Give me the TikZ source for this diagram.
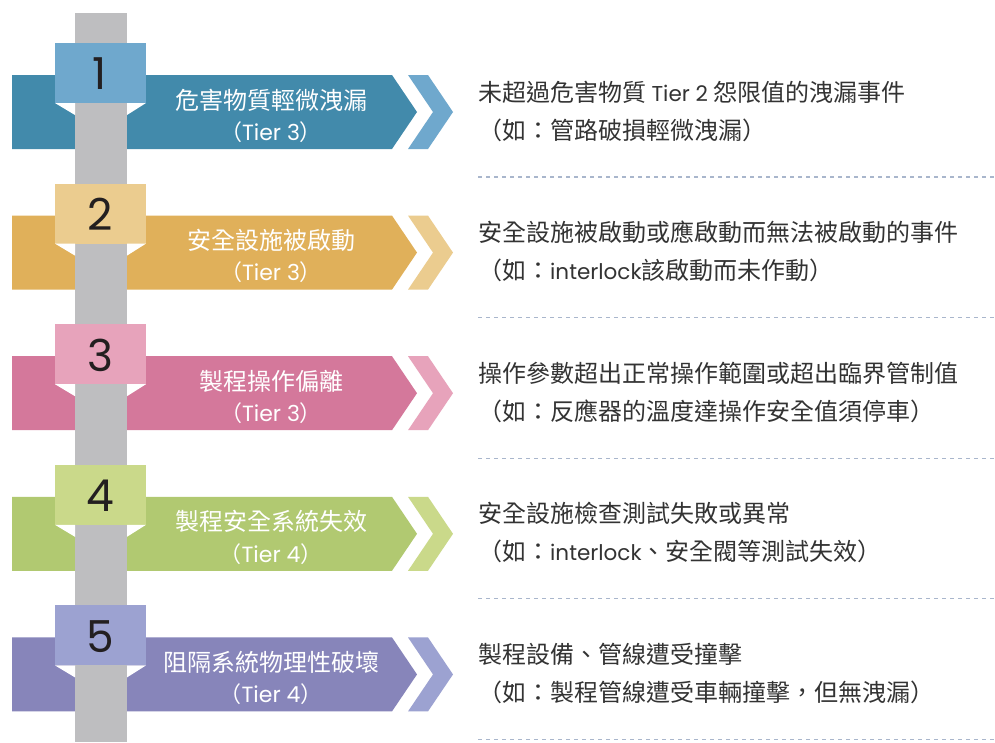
\documentclass[tikz,border=0pt]{standalone}
\usepackage{fontspec}
\setmainfont{Poppins}
\newfontfamily\cjk{Noto Sans CJK TC}
\newfontfamily\lat{Poppins}
\newcommand\latx[1]{{\lat\fontsize{21.5}{28}\selectfont #1}}
\definecolor{cad}{HTML}{428AAB}\definecolor{cal}{HTML}{6FA8CD}
\definecolor{cbd}{HTML}{E0B05A}\definecolor{cbl}{HTML}{EBCC8F}
\definecolor{ccd}{HTML}{D4789B}\definecolor{ccl}{HTML}{E7A3BB}
\definecolor{cdd}{HTML}{B1C971}\definecolor{cdl}{HTML}{CAD98A}
\definecolor{ced}{HTML}{8785BA}\definecolor{cel}{HTML}{9CA2D1}
\definecolor{polegray}{HTML}{BEBEC0}
\definecolor{dashcol}{HTML}{A9B6CC}
\definecolor{txtgray}{HTML}{333333}
\definecolor{digit}{HTML}{231F20}
\tikzset{
  numtxt/.style={text=digit, inner sep=0, font=\fontsize{44}{50}\selectfont},
  titletxt/.style={text=white, inner sep=0, font=\cjk\fontsize{24}{28}\selectfont},
  tiertxt/.style={text=white, inner sep=0, font=\fontsize{22}{28}\selectfont},
  desc/.style={anchor=west, text=txtgray, inner sep=0, font=\cjk\fontsize{24}{28}\selectfont},
  sepline/.style={draw=dashcol, line width=1.2pt, dash pattern=on 4pt off 4pt}
}
\newcommand\bandrow[3]{%
 \begin{scope}[shift={(0,{140.6*(#1-1)})}]
  \fill[#2] (12,75) -- (392,75) -- (417,112) -- (392,149) -- (12,149) -- cycle;
  \fill[#3] (408,75) -- (428,75) -- (453,112) -- (428,149) -- (408,149) -- (433,112) -- cycle;
 \end{scope}}
\newcommand\toprow[7]{%
 \begin{scope}[shift={(0,{140.6*(#1-1)})}]
  \fill[#2] (55,43) rectangle (146,103);
  \fill[white] (55,103) -- (75,103) -- (75,115) -- cycle;
  \fill[white] (127,103) -- (146,103) -- (127,115) -- cycle;
  \node[numtxt] (num#1) at (100,74) {#3};
  \node[titletxt] (title#1) at (271,100) {#4};
  \node[tiertxt] (tier#1) at (271,132) {{\cjk （}#5{\cjk ）}};
  \node[desc] (da#1) at (478,92) {#6};
  \node[desc] (db#1) at (478,130) {#7};
  \coordinate (ls#1) at (478,177);
  \coordinate (le#1) at (995,177);
  \draw[sepline] (ls#1) -- (le#1);
 \end{scope}}
\begin{document}
\begin{tikzpicture}[x=1pt,y=-1pt]
\useasboundingbox (0,0) rectangle (995,742);
\fill[white] (0,0) rectangle (995,742);
\bandrow{1}{cad}{cal}
\bandrow{2}{cbd}{cbl}
\bandrow{3}{ccd}{ccl}
\bandrow{4}{cdd}{cdl}
\bandrow{5}{ced}{cel}
\fill[polegray] (75,13) rectangle (127,742);
\toprow{1}{cal}{1}{危害物質輕微洩漏}{Tier 3}{未超過危害物質 \latx{Tier 2} 怨限值的洩漏事件}{（如：管路破損輕微洩漏）}
\toprow{2}{cbl}{2}{安全設施被啟動}{Tier 3}{安全設施被啟動或應啟動而無法被啟動的事件}{（如：\latx{interlock}該啟動而未作動）}
\toprow{3}{ccl}{3}{製程操作偏離}{Tier 3}{操作參數超出正常操作範圍或超出臨界管制值}{（如：反應器的溫度達操作安全值須停車）}
\toprow{4}{cdl}{4}{製程安全系統失效}{Tier 4}{安全設施檢查測試失敗或異常}{（如：\latx{interlock}、安全閥等測試失效）}
\toprow{5}{cel}{5}{阻隔系統物理性破壞}{Tier 4}{製程設備、管線遭受撞擊}{（如：製程管線遭受車輛撞擊，但無洩漏）}
\end{tikzpicture}
\end{document}
